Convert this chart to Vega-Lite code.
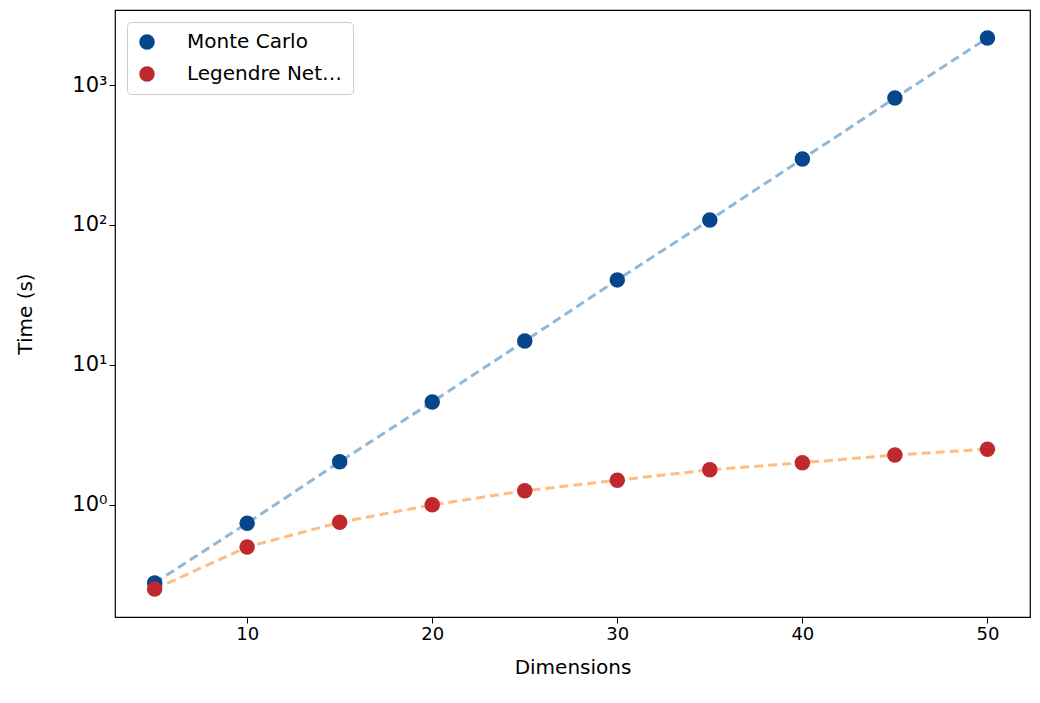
{
  "$schema": "https://vega.github.io/schema/vega-lite/v6.json",
  "width": 915, "height": 607,
  "autosize": "none",
  "padding": {"left": 115, "top": 10, "right": 10, "bottom": 86},
  "config": {"font": "DejaVu Sans", "view": {"stroke": "black", "strokeWidth": 1.2}},
  "data": {"values": [
    {"d":5,"t":0.277,"s":"Monte Carlo"},{"d":10,"t":0.74,"s":"Monte Carlo"},{"d":15,"t":2.03,"s":"Monte Carlo"},{"d":20,"t":5.44,"s":"Monte Carlo"},{"d":25,"t":14.8,"s":"Monte Carlo"},{"d":30,"t":40.5,"s":"Monte Carlo"},{"d":35,"t":108.6,"s":"Monte Carlo"},{"d":40,"t":296,"s":"Monte Carlo"},{"d":45,"t":807,"s":"Monte Carlo"},{"d":50,"t":2166,"s":"Monte Carlo"},
    {"d":5,"t":0.25,"s":"Legendre Network"},{"d":10,"t":0.5,"s":"Legendre Network"},{"d":15,"t":0.75,"s":"Legendre Network"},{"d":20,"t":1.0,"s":"Legendre Network"},{"d":25,"t":1.26,"s":"Legendre Network"},{"d":30,"t":1.5,"s":"Legendre Network"},{"d":35,"t":1.78,"s":"Legendre Network"},{"d":40,"t":2.0,"s":"Legendre Network"},{"d":45,"t":2.27,"s":"Legendre Network"},{"d":50,"t":2.5,"s":"Legendre Network"}
  ]},
  "encoding": {
    "x": {"field": "d", "type": "quantitative", "scale": {"domain": [2.86, 52.3], "nice": false, "zero": false},
      "axis": {"title": "Dimensions", "values": [10,20,30,40,50], "grid": false, "domain": false, "tickColor": "black", "tickSize": 6, "labelFontSize": 18, "labelColor": "black", "titleFontSize": 20, "titleFontWeight": "normal", "titleColor": "black", "titlePadding": 14}},
    "y": {"field": "t", "type": "quantitative", "scale": {"type": "log", "domain": [0.158, 3435], "nice": false},
      "axis": {"title": "Time (s)", "values": [1,10,100,1000], "labelExpr": "datum.value==1?'10⁰':datum.value==10?'10¹':datum.value==100?'10²':'10³'", "grid": false, "domain": false, "tickColor": "black", "tickSize": 6, "labelFontSize": 21, "labelColor": "black", "titleFontSize": 20, "titleFontWeight": "normal", "titleColor": "black", "titlePadding": 36}}
  },
  "layer": [
    {"transform": [{"filter": "datum.s == 'Monte Carlo'"}],
     "mark": {"type": "line", "strokeDash": [9, 5], "strokeWidth": 3, "color": "#90b8d8"}, "encoding": {}},
    {"transform": [{"filter": "datum.s == 'Legendre Network'"}],
     "mark": {"type": "line", "strokeDash": [9, 5], "strokeWidth": 3, "color": "#fdbd84"}, "encoding": {}},
    {"mark": {"type": "point", "filled": true, "size": 240, "opacity": 1},
     "encoding": {"fill": {"field": "s", "type": "nominal", "scale": {"domain": ["Monte Carlo", "Legendre Network"], "range": ["#08468c", "#c0282e"]},
       "legend": {"title": null, "orient": "none", "legendX": 12, "legendY": 12, "labelFontSize": 20, "labelColor": "black", "symbolSize": 240, "symbolType": "circle", "symbolStrokeWidth": 0, "rowPadding": 12, "labelOffset": 30, "padding": 10, "strokeColor": "#cccccc", "fillColor": "white", "cornerRadius": 4}}}}
  ]
}
